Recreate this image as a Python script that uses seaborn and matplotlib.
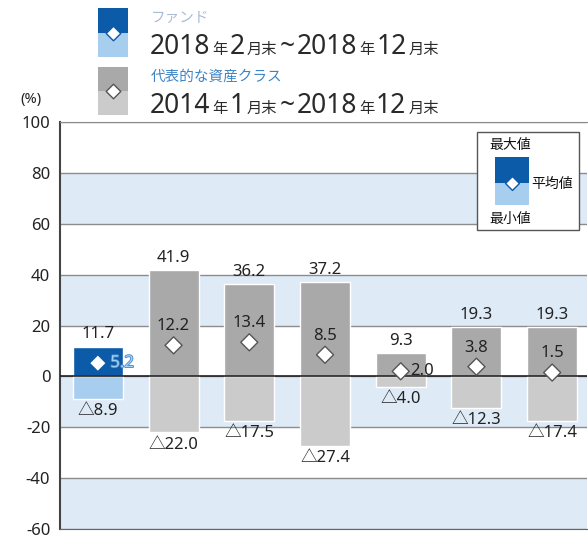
import numpy as np
import pandas as pd
import seaborn as sns
import matplotlib.pyplot as plt
import matplotlib.patheffects as pe
from matplotlib.patches import Rectangle

# データ (ファンド + 代表的な資産クラス 6つ)
cats = ['ファンド', '日本株', '先進国株', '新興国株', '日本国債', '先進国債', '新興国債']
max_vals = [11.7, 41.9, 36.2, 37.2, 9.3, 19.3, 19.3]
mean_vals = [5.2, 12.2, 13.4, 8.5, 2.0, 3.8, 1.5]
min_vals = [-8.9, -22.0, -17.5, -27.4, -4.0, -12.3, -17.4]
yticks = [-60, -40, -20, 0, 20, 40, 60, 80, 100]

top_colors = ['#0c5ba8'] + ['#a9a9a9'] * 6
bot_colors = ['#a7cdef'] + ['#cbcbcb'] * 6

sns.set_style('white')
plt.rcParams['font.family'] = ['Noto Sans', 'Noto Sans CJK JP', 'DejaVu Sans']

fig = plt.figure(figsize=(5.88, 5.40), dpi=100)
ax = fig.add_axes([60 / 588, 1 - 529 / 540, 527 / 588, 407 / 540])

df = pd.DataFrame({'cat': cats, 'max': max_vals, 'mean': mean_vals, 'min': min_vals})

# 背景の帯
for lo, hi in [(60, 80), (20, 40), (-20, 0), (-60, -40)]:
    ax.axhspan(lo, hi, color='#deebf7', zorder=0, lw=0)
for yv in yticks:
    ax.axhline(yv, color='#8c8c8c', lw=1, zorder=0.5)

sns.barplot(data=df, x='cat', y='max', hue='cat', palette=top_colors, width=0.66,
            saturation=1, legend=False, ax=ax, zorder=2)
sns.barplot(data=df, x='cat', y='min', hue='cat', palette=bot_colors, width=0.66,
            saturation=1, legend=False, ax=ax, zorder=2)
ax.axhline(0, color='#222222', lw=1.2, zorder=3)

pos = np.arange(len(cats))
edge = ['#0c5ba8'] + ['#555555'] * 6
sns.scatterplot(x=pos, y=mean_vals, marker='D', s=75, color='white',
                edgecolor=edge, linewidth=1.0, ax=ax, zorder=4)

# 値ラベル
fs = 12
for i in range(len(cats)):
    ax.annotate(f'{max_vals[i]:.1f}', (i, max_vals[i]), xytext=(0, 3), textcoords='offset points',
                ha='center', va='bottom', fontsize=fs, color='#222222', zorder=5)
    ax.annotate(f'△{abs(min_vals[i]):.1f}', (i, min_vals[i]), xytext=(0, -3), textcoords='offset points',
                ha='center', va='top', fontsize=fs, color='#222222', zorder=5)
    if i == 0:
        ax.annotate(f'{mean_vals[i]:.1f}', (i, mean_vals[i]), xytext=(9, 0), textcoords='offset points',
                    ha='left', va='center', fontsize=fs, color='#9fd2f5', zorder=5,
                    path_effects=[pe.withStroke(linewidth=1.2, foreground='#4d86c4')])
    elif i == 4:
        ax.annotate(f'{mean_vals[i]:.1f}', (i, mean_vals[i]), xytext=(7, 0), textcoords='offset points',
                    ha='left', va='center', fontsize=fs, color='#222222', zorder=5)
    else:
        ax.annotate(f'{mean_vals[i]:.1f}', (i, mean_vals[i]), xytext=(0, 8), textcoords='offset points',
                    ha='center', va='bottom', fontsize=fs, color='#222222', zorder=5)

ax.set_xlim(-0.5, 6.46)
ax.set_ylim(-60, 100)
ax.set_yticks(yticks)
ax.set_yticklabels([str(v) for v in yticks], fontsize=12, color='#222222')
ax.set_xticks([])
ax.set_xlabel('')
ax.set_ylabel('')
ax.tick_params(axis='y', length=0, pad=7)
ax.spines['right'].set_visible(False)
ax.spines['left'].set_color('#444444')
ax.spines['left'].set_linewidth(1.5)
ax.spines['top'].set_color('#8c8c8c')
ax.spines['bottom'].set_color('#666666')

# 上部の凡例と注記 (ピクセル座標)
ov = fig.add_axes([0, 0, 1, 1], zorder=10)
ov.set_xlim(0, 588)
ov.set_ylim(540, 0)
ov.axis('off')
ov.patch.set_alpha(0)
renderer = fig.canvas.get_renderer()


def date_line(x, y, parts, gap=2):
    for s, size in parts:
        t = ov.text(x, y, s, fontsize=size, ha='left', va='baseline', color='#2a2a2a')
        x += t.get_window_extent(renderer).width + gap


def icon(x, y, w, h, c_top, c_bot, ec):
    ov.add_patch(Rectangle((x, y), w, h / 2, color=c_top, lw=0))
    ov.add_patch(Rectangle((x, y + h / 2), w, h / 2, color=c_bot, lw=0))
    ov.scatter([x + w / 2], [y + h / 2], marker='D', s=55, color='white', edgecolor=ec, lw=1, zorder=3)


icon(98, 8, 30, 49, '#0c5ba8', '#a7cdef', '#0c5ba8')
icon(98, 67, 30, 48, '#a9a9a9', '#cbcbcb', '#555555')
ov.text(151, 18, 'ファンド', fontsize=10.5, color='#a9bcd6', va='center', ha='left')
ov.text(151, 77, '代表的な資産クラス', fontsize=10.5, color='#3d85c6', va='center', ha='left')
date_line(150, 54, [('2018', 19), ('年', 11), ('2', 19), ('月末', 11), ('~', 19),
                    ('2018', 19), ('年', 11), ('12', 19), ('月末', 11)])
date_line(150, 113, [('2014', 19), ('年', 11), ('1', 19), ('月末', 11), ('~', 19),
                     ('2018', 19), ('年', 11), ('12', 19), ('月末', 11)])
ov.text(31, 99, '(%)', fontsize=10.5, color='#222222', ha='center', va='center')

# 右上の凡例ボックス
ov.add_patch(Rectangle((477, 132), 102, 98, facecolor='white', edgecolor='#555555', lw=1))
ov.add_patch(Rectangle((495, 157), 34, 26, color='#0c5ba8', lw=0))
ov.add_patch(Rectangle((495, 183), 34, 22, color='#a7cdef', lw=0))
ov.scatter([512], [183], marker='D', s=50, color='white', edgecolor='#0c5ba8', lw=1, zorder=3)
ov.text(510, 146, '最大値', fontsize=10, ha='center', va='center', color='#111111')
ov.text(531, 184, '平均値', fontsize=10, ha='left', va='center', color='#111111')
ov.text(510, 219, '最小値', fontsize=10, ha='center', va='center', color='#111111')

fig.savefig('out.png', dpi=100)
